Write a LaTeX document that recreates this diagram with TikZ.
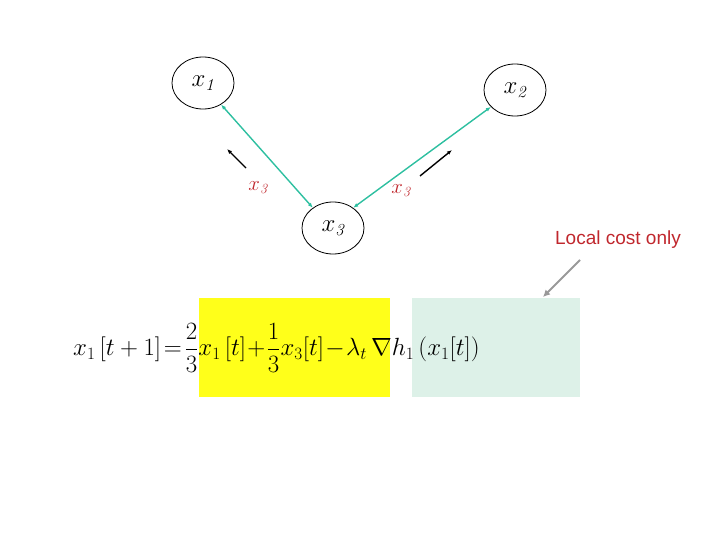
\documentclass[tikz,border=0pt]{standalone}
\usepackage{fontspec}
\newfontfamily\sans{Liberation Sans}
\usetikzlibrary{arrows.meta,shapes.geometric}
\definecolor{edge}{HTML}{2DBFA0}
\definecolor{lab}{HTML}{C0272D}
\definecolor{ybox}{HTML}{FFFF1A}
\definecolor{gbox}{HTML}{DDF1E8}
\begin{document}
\begin{tikzpicture}[x=1pt,y=-1pt,
  nd/.style={draw,thick,ellipse,minimum width=62pt,minimum height=52pt,inner sep=0pt},
  ed/.style={edge,line width=1.4pt,{Latex[length=5pt,width=4pt]}-{Latex[length=5pt,width=4pt]}},
  mv/.style={black,line width=1.4pt,-{Latex[length=5pt,width=4pt]}},
  lb/.style={lab,font=\fontsize{20}{22}\selectfont}]
\useasboundingbox (0,0) rectangle (720,540);
\node[nd] (x1) at (203,83) {\fontsize{24}{26}\selectfont$x_{\mathit 1}$};
\node[nd] (x2) at (515,90) {\fontsize{24}{26}\selectfont$x_{\mathit 2}$};
\node[nd] (x3) at (333,228) {\fontsize{24}{26}\selectfont$x_{\mathit 3}$};
\draw[ed] (x1.-50) -- (x3.135);
\draw[ed] (x3.45) -- (x2.215);
\coordinate (a1) at (246,168); \coordinate (b1) at (227,149);
\coordinate (a2) at (420,176); \coordinate (b2) at (452,150);
\draw[mv] (a1) -- (b1);
\draw[mv] (a2) -- (b2);
\node[lb] (l1) at (258,188) {$x_{\mathit 3}$};
\node[lb] (l2) at (401,191) {$x_{\mathit 3}$};
\node[lab,font=\sans\fontsize{19}{22}\selectfont] (lc) at (618,240) {Local cost only};
\fill[ybox] (199,298) rectangle (390,397);
\fill[gbox] (412,298) rectangle (580,397);
\coordinate (g0) at (580,260); \coordinate (g1) at (543,297);
\draw[gray!80,line width=1.8pt,-{Latex[length=7pt,width=7pt]}] (g0) -- (g1);
\node[anchor=west,inner sep=0pt,font=\fontsize{23}{26}\selectfont] (eq) at (73,348)
 {$\displaystyle x_1\,[t+1]\!=\!\frac{2}{3}x_1\,[t]\!+\!\frac{1}{3}x_3[t]\!-\!\lambda_t\,\nabla h_1\,(x_1[t])$};
\end{tikzpicture}
\end{document}
